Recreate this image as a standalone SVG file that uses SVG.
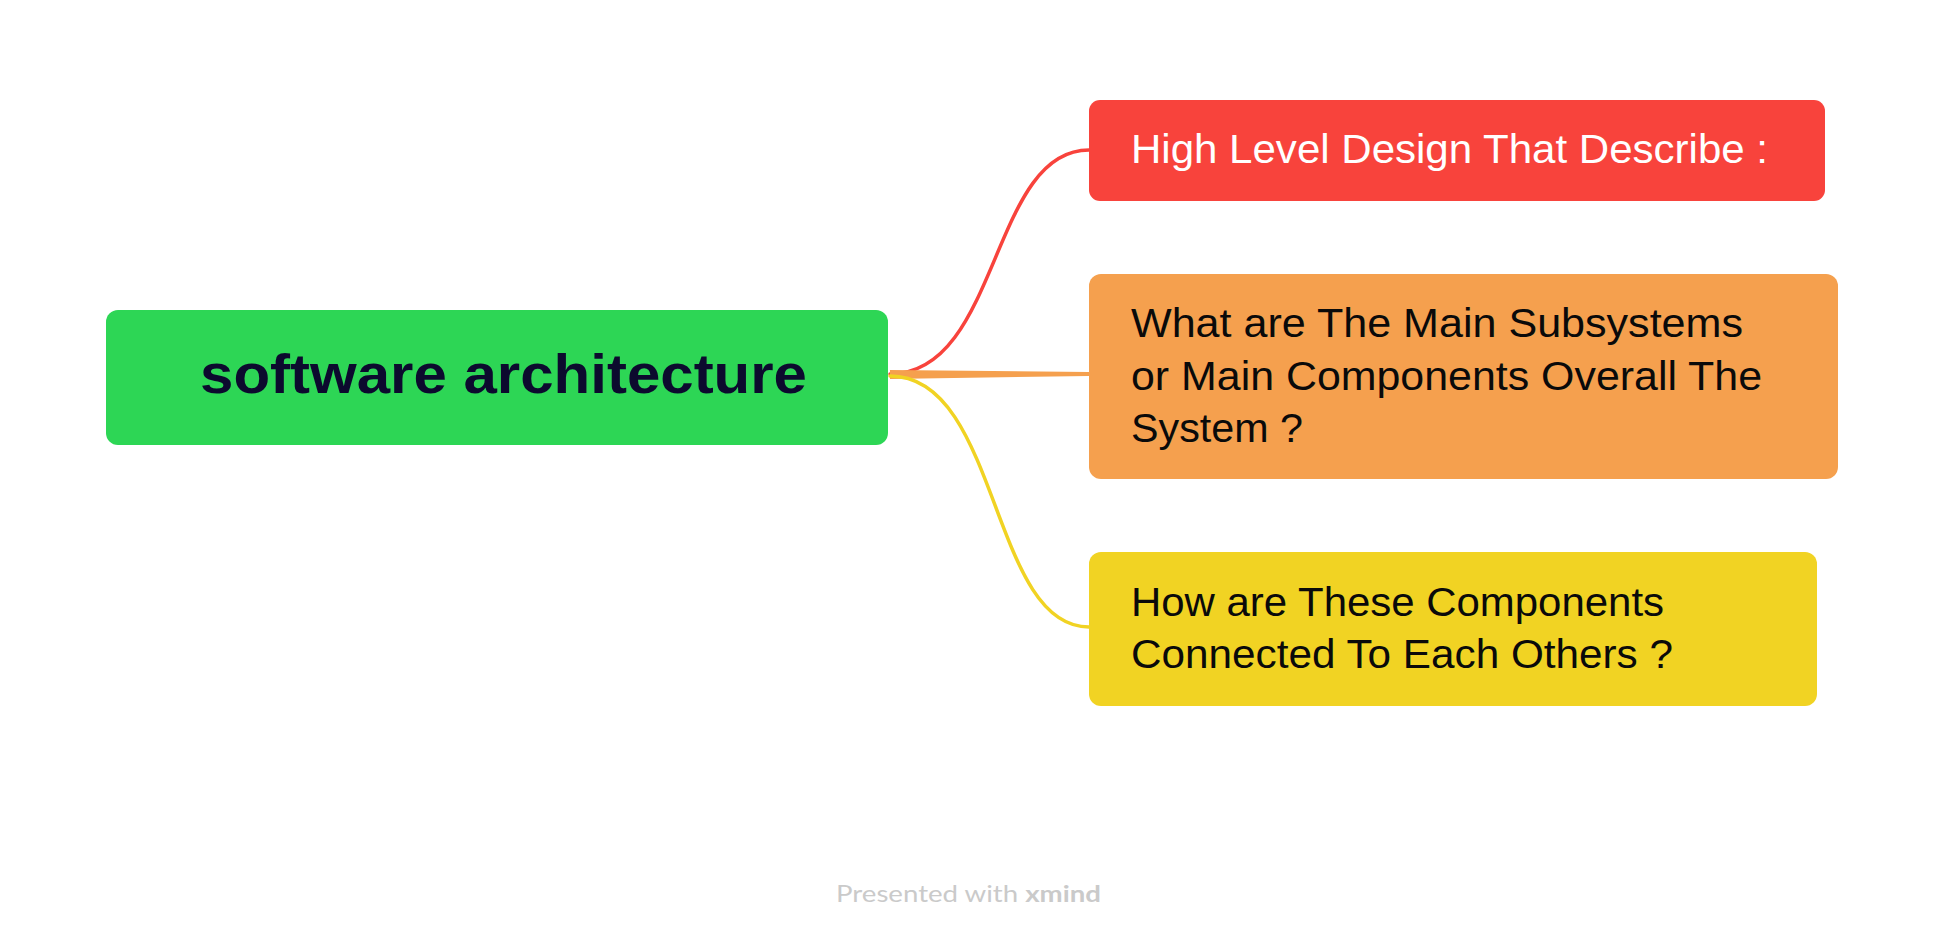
<svg xmlns="http://www.w3.org/2000/svg" width="1934" height="944" viewBox="0 0 1934 944">
<style>
.lbl{font-family:"Liberation Sans",Arial,sans-serif;}
.root{font-size:55px;font-weight:bold;fill:#0c0a2e;}
.br{font-size:40px;}
.dark{fill:#0a0a0a;}
.light{fill:#ffffff;}
.conn{fill:none;stroke-linecap:round;}
.foot{font-family:Lato,"Open Sans",sans-serif;font-size:23px;fill:#cacaca;}
</style>
<rect width="1934" height="944" fill="#ffffff"/>
<g id="connectors">
<path class="conn" d="M890,374 C1000,374 990,150 1089,150" stroke="#f8433c" stroke-width="3.5"/>
<path d="M890,370 L1089,372 L1089,376 L890,379 Z" fill="#f5a04e"/>
<path class="conn" d="M890,376 C1000,376 990,627 1089,627" stroke="#f1d323" stroke-width="3.5"/>
</g>
<g id="node-root">
<rect x="106" y="310" width="782" height="135" rx="12" fill="#2dd655"/>
<text class="lbl root" x="200" y="393" textLength="607" lengthAdjust="spacingAndGlyphs">software architecture</text>
</g>
<g id="node-high-level">
<rect x="1089" y="100" width="736" height="101" rx="11" fill="#f8433c"/>
<text class="lbl br light" x="1131" y="163" textLength="637" lengthAdjust="spacingAndGlyphs">High Level Design That Describe :</text>
</g>
<g id="node-subsystems">
<rect x="1089" y="274" width="749" height="205" rx="12" fill="#f5a04e"/>
<text class="lbl br dark" x="1131" y="337" textLength="612" lengthAdjust="spacingAndGlyphs">What are The Main Subsystems</text>
<text class="lbl br dark" x="1131" y="390" textLength="631" lengthAdjust="spacingAndGlyphs">or Main Components Overall The</text>
<text class="lbl br dark" x="1131" y="442" textLength="172" lengthAdjust="spacingAndGlyphs">System ?</text>
</g>
<g id="node-connected">
<rect x="1089" y="552" width="728" height="154" rx="12" fill="#f1d323"/>
<text class="lbl br dark" x="1131" y="616" textLength="533" lengthAdjust="spacingAndGlyphs">How are These Components</text>
<text class="lbl br dark" x="1131" y="668" textLength="542" lengthAdjust="spacingAndGlyphs">Connected To Each Others ?</text>
</g>
<g id="footer">
<text class="foot" x="836" y="902" textLength="265" lengthAdjust="spacingAndGlyphs">Presented with <tspan font-weight="bold">xmind</tspan></text>
</g>
</svg>
